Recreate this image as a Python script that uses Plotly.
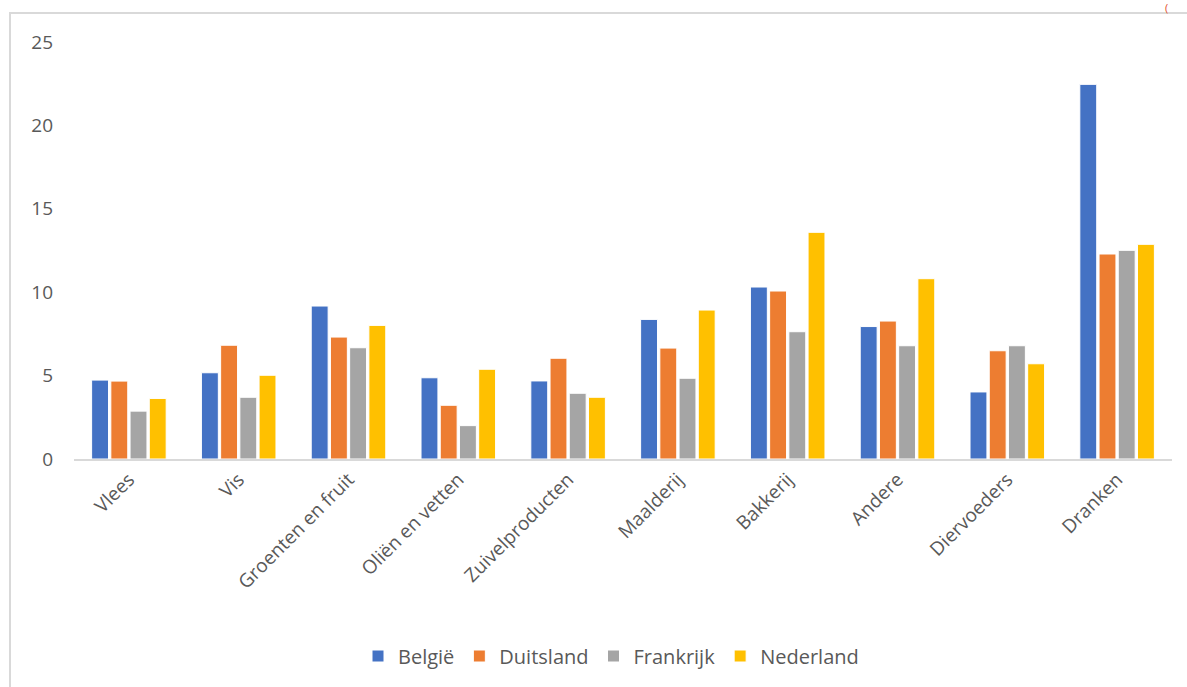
import plotly.graph_objects as go

categories = ["Vlees", "Vis", "Groenten en fruit", "Oliën en vetten", "Zuivelproducten",
              "Maalderij", "Bakkerij", "Andere", "Diervoeders", "Dranken"]

belgie = [4.73, 5.17, 9.17, 4.87, 4.68, 8.37, 10.31, 7.94, 4.02, 22.46]
duitsland = [4.67, 6.82, 7.31, 3.22, 6.04, 6.65, 10.07, 8.27, 6.49, 12.29]
frankrijk = [2.87, 3.70, 6.67, 2.00, 3.94, 4.84, 7.63, 6.79, 6.79, 12.51]
nederland = [3.63, 5.02, 8.01, 5.38, 3.70, 8.93, 13.59, 10.81, 5.71, 12.87]

series = [
    ("België", belgie, "#4472C4"),
    ("Duitsland", duitsland, "#ED7D31"),
    ("Frankrijk", frankrijk, "#A5A5A5"),
    ("Nederland", nederland, "#FFC000"),
]

y_ticks = [0, 5, 10, 15, 20, 25]

FONT = "Open Sans"
TEXT = "#595959"

fig = go.Figure()
for name, values, color in series:
    fig.add_trace(go.Bar(
        name=name, x=categories, y=values,
        marker=dict(color=color, line=dict(color="white", width=1)),
    ))

# plot area in pixels: x 74..1172, y 42..459
L, R, T, B = 74, 15, 42, 228
W, H = 1187, 687
pw, ph = W - L - R, H - T - B

def px_x(px):
    return (px - L) / pw

def px_y(py):
    return (H - B - py) / ph

fig.update_layout(
    width=W, height=H,
    margin=dict(l=L, r=R, t=T, b=B),
    paper_bgcolor="white", plot_bgcolor="white",
    barmode="group", bargap=0.3, bargroupgap=0.12,
    font=dict(family=FONT, size=19, color=TEXT),
    showlegend=True,
    legend=dict(orientation="h", x=px_x(611), xanchor="center",
                y=px_y(656), yanchor="middle",
                font=dict(family=FONT, size=20, color=TEXT),
                itemwidth=30, tracegroupgap=0),
    xaxis=dict(showgrid=False, showline=True, linecolor="#D9D9D9", linewidth=2,
               ticks="", tickangle=-45, tickfont=dict(size=19, color=TEXT),
               zeroline=False),
    yaxis=dict(range=[0, 25], tickvals=y_ticks, showgrid=False, showline=False,
               zeroline=False, ticks="", ticklabelstandoff=20,
               tickfont=dict(size=19, color=TEXT)),
    shapes=[dict(type="rect", xref="paper", yref="paper",
                 x0=px_x(10), x1=px_x(1250), y0=px_y(760), y1=px_y(13),
                 line=dict(color="#D9D9D9", width=2), fillcolor="rgba(0,0,0,0)",
                 layer="below")],
    annotations=[dict(text="(", xref="paper", yref="paper", x=px_x(1166), y=px_y(7),
                      showarrow=False, font=dict(family=FONT, size=11, color="#E2502A"),
                      xanchor="center", yanchor="middle")],
)

fig.write_html("out.html")
